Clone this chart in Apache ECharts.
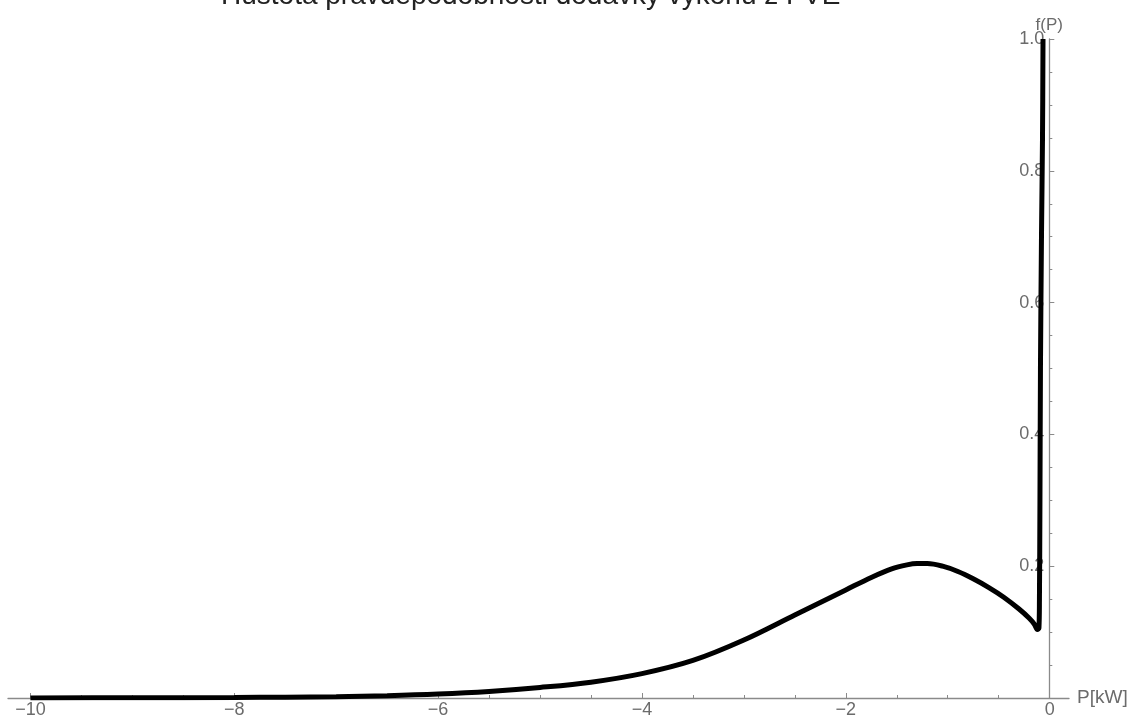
<!DOCTYPE html>
<html>
<head>
<meta charset="utf-8">
<script src="https://cdn.jsdelivr.net/npm/echarts@6/dist/echarts.min.js"></script>
<style>
    html, body { margin: 0; padding: 0; background: #fff; }
    #chart { width: 1131px; height: 720px; }
</style>
</head>
<body>
<div id="chart"></div>
<script>
// hodnoty
var power = [-10, -9, -8, -7.5, -7, -6.5, -6, -5.5, -5, -4.5, -4, -3.5, -3, -2.5, -2, -1.75, -1.55, -1.4, -1.3, -1.2, -1.05, -0.9, -0.75, -0.6, -0.45, -0.3, -0.2, -0.15, -0.12, -0.105, -0.1, -0.095, -0.09, -0.08, -0.07, -0.065];
var density = [0.0001, 0.0003, 0.0008, 0.0013, 0.002, 0.0035, 0.006, 0.01, 0.016, 0.024, 0.037, 0.057, 0.088, 0.126, 0.164, 0.183, 0.196, 0.202, 0.204, 0.204, 0.200, 0.192, 0.181, 0.168, 0.153, 0.135, 0.121, 0.112, 0.104, 0.106, 0.15, 0.3, 0.5, 0.7, 0.85, 1.0];
var xTicks = [-10, -8, -6, -4, -2, 0];

var points = [];
for (var i = 0; i < power.length; i++) {
    points.push([power[i], density[i]]);
}

var gray = "#8a8a8a";
var labelGray = "#6b6b6b";
var chart = echarts.init(document.getElementById("chart"));
chart.setOption({
    animation: false,
    title: {
        text: "Hustota pravděpodobnosti dodávky výkonu z FVE",
        left: 216,
        top: -23,
        textStyle: { fontFamily: "Liberation Sans", fontSize: 28, fontWeight: "normal", color: "#222" }
    },
    grid: { left: 8, right: 62, top: 39, bottom: 22, containLabel: false, outerBoundsMode: "none" },
    xAxis: {
        type: "value",
        min: -10.22,
        max: 0.19,
        name: "P[kW]",
        nameLocation: "end",
        nameGap: 8,
        nameTextStyle: { color: labelGray, fontSize: 19, fontFamily: "Liberation Sans" },
        splitLine: { show: false },
        axisLine: { onZero: false, lineStyle: { color: gray, width: 1.3 } },
        axisTick: { inside: true, length: 5, customValues: xTicks, lineStyle: { color: gray } },
        minorTick: { show: true, splitNumber: 4, length: 3, lineStyle: { color: gray } },
        axisLabel: {
            customValues: xTicks,
            color: labelGray,
            fontSize: 18,
            fontFamily: "Liberation Sans",
            margin: 3,
            formatter: function (v) { return v < 0 ? "\u2212" + (-v) : String(v); }
        }
    },
    yAxis: {
        type: "value",
        min: 0,
        max: 1,
        interval: 0.2,
        position: "right",
        offset: -19.7,
        name: "f(P)",
        nameLocation: "end",
        nameGap: 14,
        nameMoveOverlap: false,
        nameTextStyle: { color: labelGray, fontSize: 17, fontFamily: "Liberation Sans", verticalAlign: "middle" },
        splitLine: { show: false },
        axisLine: { show: true, onZero: false, lineStyle: { color: gray, width: 1.3 } },
        axisTick: { show: true, inside: false, length: 5, lineStyle: { color: gray } },
        minorTick: { show: true, splitNumber: 4, length: 3, lineStyle: { color: gray } },
        axisLabel: {
            inside: true,
            showMinLabel: false,
            color: labelGray,
            fontSize: 18,
            fontFamily: "Liberation Sans",
            margin: 5,
            formatter: function (v) { return v.toFixed(1); }
        }
    },
    series: [{
        type: "line",
        data: points,
        showSymbol: false,
        smooth: 0.35,
        lineStyle: { color: "#000", width: 5 },
        z: 1
    }]
});
</script>
</body>
</html>
